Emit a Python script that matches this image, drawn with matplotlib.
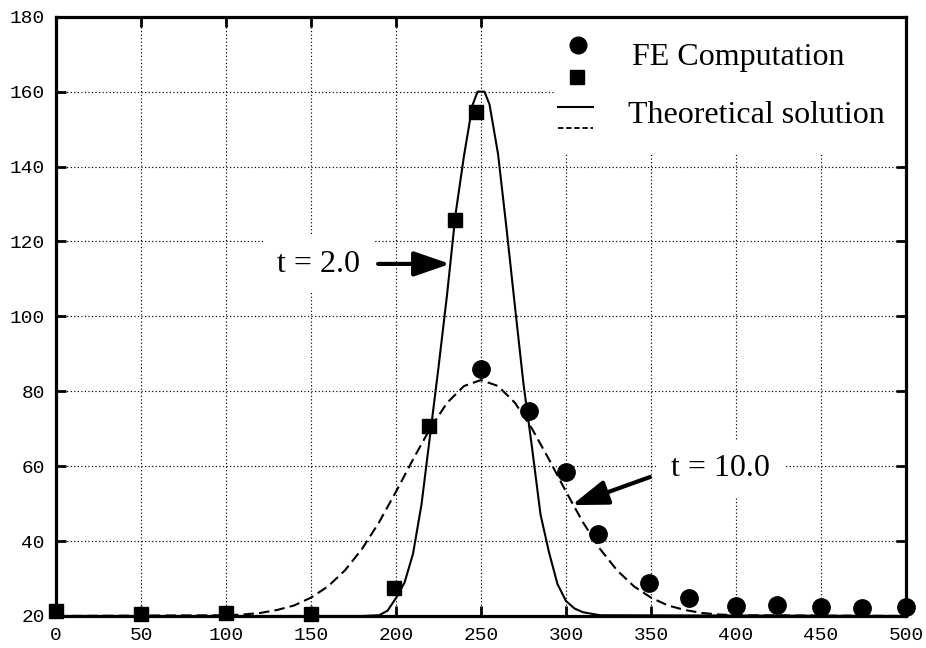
import matplotlib
matplotlib.use("Agg")
import matplotlib.pyplot as plt
from matplotlib.patches import Rectangle

# FE computation results
square_x = [0, 50, 100, 150, 199, 219.6, 234.5, 247]          # t = 2.0
square_y = [21.4, 20.5, 20.7, 20.5, 27.6, 70.8, 125.6, 154.6]
circle_x = [250, 278, 300, 319, 349, 372.5, 400, 424, 450, 474, 500]   # t = 10.0
circle_y = [86.0, 74.8, 58.4, 42.0, 28.7, 24.8, 22.7, 22.9, 22.4, 22.1, 22.3]

# Theoretical solution, t = 2.0
theory2_x = [0, 180, 190, 195, 200, 205, 210, 215, 220, 225, 230, 235, 240, 245, 248,
             252, 255, 260, 265, 270, 275, 280, 285, 290, 295, 300, 305, 310, 320, 500]
theory2_y = [20.0, 20.0, 20.2, 21.4, 24.8, 28.9, 36.6, 49.8, 68.1, 86.4, 105.7, 127.2, 142.9, 156.4, 160.0,
             160.0, 156.6, 143.4, 123.5, 102.5, 81.9, 65.0, 47.1, 37.0, 28.5, 24.0, 22.0, 21.0, 20.2, 20.0]

# Theoretical solution, t = 10.0
theory10_x = [0, 100, 110, 120, 130, 140, 150, 160, 170, 180, 190, 200, 210, 220, 230, 240, 250,
              260, 270, 280, 290, 300, 310, 320, 330, 340, 350, 360, 370, 380, 390, 400, 500]
theory10_y = [20.0, 20.2, 20.4, 20.8, 21.6, 22.8, 24.9, 27.9, 32.2, 37.9, 45.0, 53.2, 61.8, 70.0, 76.9, 81.4, 83.0,
              81.4, 76.9, 70.0, 61.8, 53.2, 45.0, 37.9, 32.2, 27.9, 24.9, 22.8, 21.6, 20.8, 20.4, 20.2, 20.0]

x_ticks = [0, 50, 100, 150, 200, 250, 300, 350, 400, 450, 500]
y_ticks = [20, 40, 60, 80, 100, 120, 140, 160, 180]

SERIF = ["Liberation Serif", "DejaVu Serif"]
MONO = ["Liberation Mono", "DejaVu Sans Mono"]

fig = plt.figure(figsize=(9.26, 6.48), dpi=100)
ax = fig.add_axes([0.0605, 0.0494, 0.9179, 0.9248])

ax.set_xlim(0, 500)
ax.set_ylim(20, 180)
ax.set_xticks(x_ticks)
ax.set_yticks(y_ticks)
ax.set_xticklabels([str(v) for v in x_ticks], family=MONO, fontsize=14)
ax.set_yticklabels([str(v) for v in y_ticks], family=MONO, fontsize=14)
ax.tick_params(direction="in", top=True, right=True, length=7, width=2, pad=8, colors="black")
ax.grid(True, color="black", linestyle=(0, (1, 2)), linewidth=0.85)
for sp in ax.spines.values():
    sp.set_linewidth(2.3)
    sp.set_zorder(6)

# curves
ax.plot(theory2_x, theory2_y, color="black", lw=1.5, zorder=3, clip_on=False)
ax.plot(theory10_x, theory10_y, color="black", lw=1.5, ls=(0, (5, 2.5)), zorder=3, clip_on=False)

# FE points
ax.plot(square_x, square_y, ls="none", marker="s", ms=10.5, color="black", zorder=5, clip_on=False)
ax.plot(circle_x, circle_y, ls="none", marker="o", ms=12.5, color="black", zorder=5, clip_on=False)

# annotations
ax.text(130, 111.9, "t = 2.0", family=SERIF, fontsize=23, ha="left", va="baseline", zorder=4,
        bbox=dict(boxstyle="square,pad=0.45", fc="white", ec="none"))
ax.text(361.5, 57.4, "t = 10.0", family=SERIF, fontsize=23, ha="left", va="baseline", zorder=4,
        bbox=dict(boxstyle="square,pad=0.45", fc="white", ec="none"))
arrow = dict(arrowstyle="-|>,head_length=1.1,head_width=0.38", color="black", lw=3,
             shrinkA=0, shrinkB=0, mutation_scale=20)
ax.annotate("", xy=(231.8, 114.0), xytext=(189.5, 114.0), arrowprops=arrow, zorder=5)
ax.annotate("", xy=(303.4, 49.6), xytext=(349.4, 57.1), arrowprops=arrow, zorder=5)

# legend block
ax.add_patch(Rectangle((0.588, 0.769), 0.412, 0.231, transform=ax.transAxes,
                       facecolor="white", edgecolor="none", zorder=2))
ax.plot([0.614], [0.953], transform=ax.transAxes, marker="o", ms=12, color="black",
        ls="none", zorder=5, clip_on=False)
ax.plot([0.613], [0.899], transform=ax.transAxes, marker="s", ms=10, color="black",
        ls="none", zorder=5, clip_on=False)
ax.plot([0.591, 0.632], [0.850, 0.850], transform=ax.transAxes, color="black", lw=1.5, zorder=5)
ax.plot([0.591, 0.632], [0.814, 0.814], transform=ax.transAxes, color="black", lw=1.3,
        ls=(0, (3, 1.5)), zorder=5)
ax.text(0.678, 0.919, "FE Computation", transform=ax.transAxes, family=SERIF, fontsize=23,
        ha="left", va="baseline", zorder=5)
ax.text(0.673, 0.822, "Theoretical solution", transform=ax.transAxes, family=SERIF, fontsize=23,
        ha="left", va="baseline", zorder=5)

fig.savefig("out.png", dpi=100)
